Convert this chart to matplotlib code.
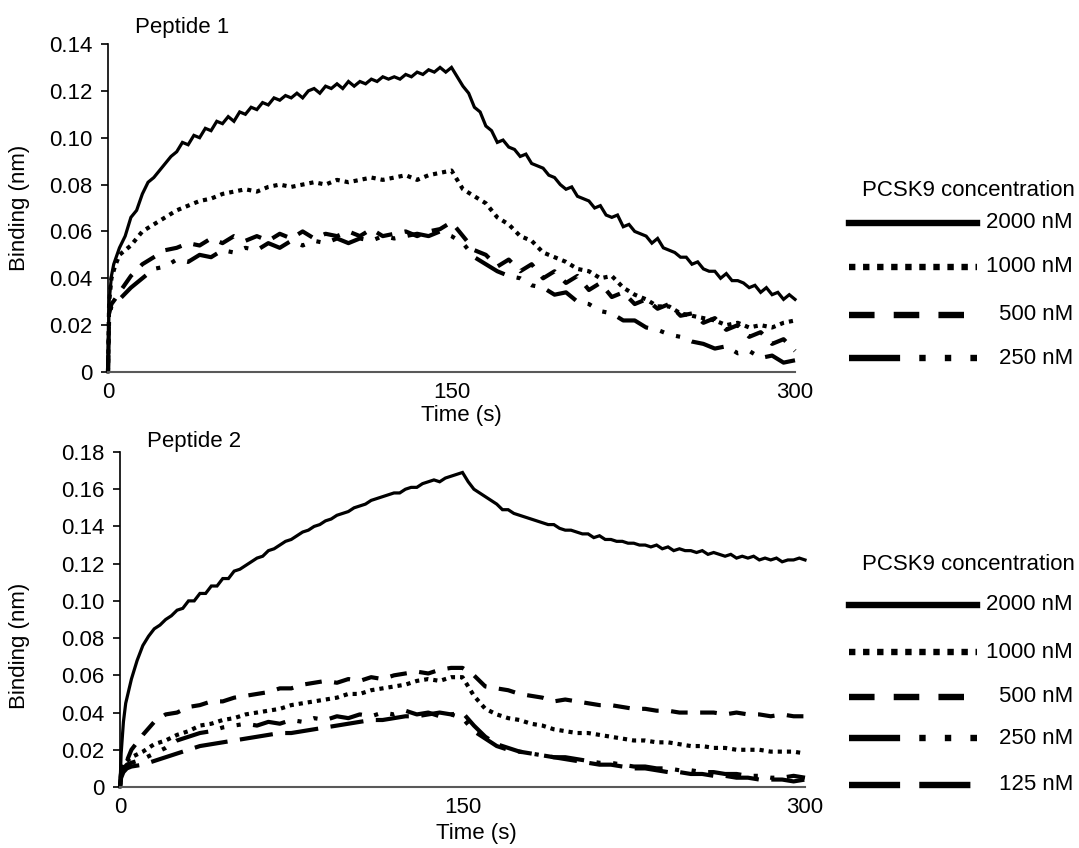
import matplotlib
matplotlib.use("Agg")
import matplotlib.pyplot as plt
from matplotlib.lines import Line2D

plt.rcParams['font.family'] = ['Liberation Sans', 'DejaVu Sans']

# ---------------- data ----------------
# fine sampling for the 2000 nM traces
time_fine = [0, 0.5, 1.5] + [2.5 * k for k in range(1, 121)]
# coarser sampling for the other traces
time = [0, 0.5, 1.5, 3] + list(range(5, 305, 5))

p1_2000 = [0, 0.030, 0.041,
           0.046, 0.053, 0.058, 0.066, 0.069, 0.076, 0.081, 0.083, 0.086, 0.089,
           0.092, 0.094, 0.098, 0.097, 0.101, 0.100, 0.104, 0.103, 0.107, 0.106,
           0.109, 0.107, 0.111, 0.110, 0.113, 0.112, 0.115, 0.114, 0.117, 0.116,
           0.118, 0.117, 0.119, 0.117, 0.120, 0.121, 0.119, 0.122, 0.121, 0.123,
           0.121, 0.124, 0.122, 0.124, 0.123, 0.125, 0.124, 0.126, 0.125, 0.126,
           0.125, 0.127, 0.126, 0.128, 0.127, 0.129, 0.128, 0.130, 0.128, 0.130,
           0.126, 0.122, 0.119, 0.113, 0.111, 0.105, 0.103, 0.098, 0.099, 0.096,
           0.095, 0.092, 0.093, 0.089, 0.088, 0.087, 0.084, 0.083, 0.080, 0.078,
           0.079, 0.075, 0.074, 0.073, 0.070, 0.071, 0.067, 0.066, 0.067, 0.062,
           0.063, 0.060, 0.059, 0.058, 0.055, 0.057, 0.053, 0.052, 0.051, 0.049,
           0.049, 0.046, 0.047, 0.044, 0.043, 0.043, 0.040, 0.042, 0.039, 0.039,
           0.038, 0.036, 0.037, 0.034, 0.036, 0.033, 0.034, 0.031, 0.033, 0.031]
p1_1000 = [0, 0.030, 0.040, 0.045,
           0.050, 0.054, 0.060, 0.063, 0.066, 0.069, 0.071, 0.073, 0.074, 0.076,
           0.077, 0.078, 0.077, 0.079, 0.080, 0.079, 0.080, 0.081, 0.080, 0.082,
           0.081, 0.082, 0.083, 0.082, 0.083, 0.084, 0.082, 0.084, 0.085, 0.086,
           0.078, 0.075, 0.072, 0.066, 0.063, 0.058, 0.056, 0.051, 0.049, 0.047,
           0.044, 0.043, 0.040, 0.041, 0.036, 0.033, 0.031, 0.028, 0.028, 0.025,
           0.024, 0.023, 0.022, 0.020, 0.021, 0.019, 0.020, 0.019, 0.021, 0.022]
p1_500 = [0, 0.025, 0.029, 0.031,
          0.034, 0.041, 0.046, 0.049, 0.052, 0.053, 0.055, 0.054, 0.057, 0.055,
          0.058, 0.056, 0.058, 0.056, 0.059, 0.057, 0.060, 0.057, 0.059, 0.058,
          0.060, 0.058, 0.061, 0.058, 0.059, 0.060, 0.058, 0.060, 0.061, 0.064,
          0.058, 0.052, 0.050, 0.045, 0.048, 0.043, 0.046, 0.040, 0.043, 0.038,
          0.041, 0.035, 0.038, 0.032, 0.034, 0.029, 0.031, 0.027, 0.029, 0.024,
          0.025, 0.021, 0.023, 0.018, 0.020, 0.015, 0.017, 0.012, 0.014, 0.009]
p1_250 = [0, 0.024, 0.028, 0.029,
          0.031, 0.036, 0.040, 0.044, 0.045, 0.048, 0.047, 0.050, 0.049, 0.052,
          0.051, 0.053, 0.052, 0.055, 0.053, 0.056, 0.054, 0.056, 0.055, 0.057,
          0.055, 0.057, 0.056, 0.058, 0.057, 0.058, 0.059, 0.058, 0.060, 0.058,
          0.055, 0.049, 0.046, 0.043, 0.041, 0.040, 0.037, 0.036, 0.033, 0.034,
          0.030, 0.029, 0.026, 0.025, 0.022, 0.022, 0.019, 0.018, 0.016, 0.015,
          0.013, 0.012, 0.010, 0.011, 0.008, 0.009, 0.006, 0.007, 0.004, 0.005]

p2_2000 = [0, 0.018, 0.035,
           0.045, 0.058, 0.068, 0.076, 0.081, 0.085, 0.087, 0.090, 0.092, 0.095,
           0.096, 0.100, 0.100, 0.104, 0.104, 0.108, 0.108, 0.112, 0.112, 0.116,
           0.117, 0.119, 0.121, 0.123, 0.124, 0.127, 0.128, 0.130, 0.132, 0.133,
           0.135, 0.137, 0.138, 0.140, 0.141, 0.143, 0.144, 0.146, 0.147, 0.148,
           0.150, 0.151, 0.152, 0.154, 0.155, 0.156, 0.157, 0.158, 0.158, 0.160,
           0.161, 0.161, 0.163, 0.164, 0.165, 0.164, 0.166, 0.167, 0.168, 0.169,
           0.164, 0.160, 0.158, 0.156, 0.154, 0.152, 0.149, 0.149, 0.147, 0.146,
           0.145, 0.144, 0.143, 0.142, 0.141, 0.141, 0.139, 0.138, 0.138, 0.137,
           0.136, 0.136, 0.134, 0.135, 0.133, 0.133, 0.132, 0.132, 0.131, 0.131,
           0.130, 0.130, 0.129, 0.130, 0.128, 0.129, 0.127, 0.128, 0.127, 0.127,
           0.126, 0.127, 0.125, 0.126, 0.125, 0.124, 0.125, 0.123, 0.124, 0.123,
           0.124, 0.122, 0.123, 0.122, 0.123, 0.121, 0.122, 0.122, 0.123, 0.122]
p2_1000 = [0, 0.008, 0.012, 0.014,
           0.016, 0.019, 0.023, 0.025, 0.028, 0.030, 0.033, 0.034, 0.036, 0.037,
           0.039, 0.040, 0.041, 0.042, 0.044, 0.045, 0.046, 0.047, 0.048, 0.050,
           0.050, 0.052, 0.053, 0.054, 0.055, 0.057, 0.058, 0.057, 0.059, 0.059,
           0.049, 0.042, 0.039, 0.037, 0.036, 0.034, 0.033, 0.031, 0.030, 0.029,
           0.029, 0.028, 0.027, 0.026, 0.025, 0.025, 0.024, 0.024, 0.023, 0.022,
           0.022, 0.021, 0.021, 0.020, 0.020, 0.020, 0.019, 0.019, 0.019, 0.018]
p2_500 = [0, 0.008, 0.011, 0.014,
          0.020, 0.028, 0.035, 0.039, 0.040, 0.043, 0.044, 0.046, 0.046, 0.048,
          0.049, 0.050, 0.051, 0.053, 0.053, 0.055, 0.056, 0.057, 0.056, 0.058,
          0.057, 0.059, 0.058, 0.060, 0.061, 0.062, 0.061, 0.063, 0.064, 0.064,
          0.060, 0.054, 0.053, 0.052, 0.050, 0.049, 0.048, 0.046, 0.047, 0.046,
          0.045, 0.044, 0.044, 0.043, 0.042, 0.042, 0.041, 0.041, 0.040, 0.040,
          0.040, 0.040, 0.039, 0.040, 0.039, 0.039, 0.038, 0.039, 0.038, 0.038]
p2_250 = [0, 0.006, 0.010, 0.012,
          0.013, 0.015, 0.018, 0.021, 0.025, 0.027, 0.029, 0.030, 0.032, 0.033,
          0.034, 0.033, 0.035, 0.034, 0.036, 0.035, 0.037, 0.036, 0.038, 0.037,
          0.039, 0.038, 0.040, 0.039, 0.041, 0.039, 0.040, 0.038, 0.039, 0.037,
          0.030, 0.026, 0.022, 0.020, 0.019, 0.018, 0.017, 0.016, 0.016, 0.015,
          0.014, 0.013, 0.013, 0.012, 0.011, 0.011, 0.010, 0.010, 0.009, 0.009,
          0.008, 0.008, 0.007, 0.007, 0.006, 0.006, 0.005, 0.005, 0.006, 0.005]
p2_125 = [0, 0.005, 0.008, 0.010,
          0.011, 0.012, 0.014, 0.016, 0.018, 0.020, 0.022, 0.023, 0.024, 0.025,
          0.026, 0.027, 0.028, 0.029, 0.029, 0.030, 0.031, 0.032, 0.033, 0.034,
          0.035, 0.036, 0.036, 0.037, 0.038, 0.038, 0.039, 0.040, 0.039, 0.040,
          0.033, 0.027, 0.023, 0.021, 0.019, 0.018, 0.017, 0.016, 0.015, 0.014,
          0.013, 0.012, 0.012, 0.011, 0.010, 0.010, 0.009, 0.008, 0.008, 0.007,
          0.007, 0.006, 0.006, 0.005, 0.005, 0.004, 0.004, 0.004, 0.003, 0.004]

conc_labels = ['2000 nM', '1000 nM', '500 nM', '250 nM', '125 nM']
p1_series = [p1_2000, p1_1000, p1_500, p1_250]
p2_series = [p2_2000, p2_1000, p2_500, p2_250, p2_125]
x_ticks = [0, 150, 300]
y1_ticks = [0, 0.02, 0.04, 0.06, 0.08, 0.10, 0.12, 0.14]
y1_labels = ['0', '0.02', '0.04', '0.06', '0.08', '0.10', '0.12', '0.14']
y2_ticks = [0, 0.02, 0.04, 0.06, 0.08, 0.10, 0.12, 0.14, 0.16, 0.18]
y2_labels = ['0', '0.02', '0.04', '0.06', '0.08', '0.10', '0.12', '0.14', '0.16', '0.18']

# ---------------- styles ----------------
styles = ['-', (0, (1, 1.2)), (0, (4, 3)), (0, (8, 3, 1, 3, 1, 3)), (0, (8, 3))]
FS = 16

W, H = 1079, 848
fig = plt.figure(figsize=(W / 100, H / 100), dpi=100)


def fx(px):
    return px / W


def fy(py):
    return 1 - py / H


ax1 = fig.add_axes([fx(108), fy(372), (795 - 108) / W, (372 - 44) / H])
ax2 = fig.add_axes([fx(120), fy(787), (805 - 120) / W, (787 - 452) / H])


def style_axes(ax, yt, yl, ymax):
    ax.set_xlim(0, 300)
    ax.set_ylim(0, ymax)
    ax.set_xticks(x_ticks)
    ax.set_xticklabels([str(v) for v in x_ticks])
    ax.set_yticks(yt)
    ax.set_yticklabels(yl)
    for s in ['top', 'right']:
        ax.spines[s].set_visible(False)
    ax.spines['left'].set_color('black')
    ax.spines['left'].set_linewidth(1.2)
    ax.spines['bottom'].set_color('#595959')
    ax.spines['bottom'].set_linewidth(1.5)
    ax.tick_params(axis='x', length=0, pad=7, labelsize=FS)
    ax.tick_params(axis='y', direction='out', length=5, width=1.2, pad=6, labelsize=FS)
    ax.set_xlabel('Time (s)', fontsize=FS)
    ax.set_ylabel('Binding (nm)', fontsize=FS)


def draw_traces(ax, series):
    for i, (vals, ls) in enumerate(zip(series, styles)):
        t = time_fine if i == 0 else time
        lw = 2.3 if i == 0 else 3.0
        ax.plot(t, vals, color='black', lw=lw, linestyle=ls, dash_capstyle='butt',
                solid_joinstyle='miter', clip_on=False)


draw_traces(ax1, p1_series)
draw_traces(ax2, p2_series)

style_axes(ax1, y1_ticks, y1_labels, 0.14)
style_axes(ax2, y2_ticks, y2_labels, 0.18)
ax1.xaxis.set_label_coords(0.515, -0.1)
ax2.xaxis.set_label_coords(0.52, -0.108)
ax1.yaxis.set_label_coords(-0.1135, 0.5)
ax2.yaxis.set_label_coords(-0.131, 0.42)

fig.text(fx(135), fy(33), 'Peptide 1', fontsize=FS, va='baseline', ha='left')
fig.text(fx(147), fy(447), 'Peptide 2', fontsize=FS, va='baseline', ha='left')


def draw_legend(title_y, ys, n):
    fig.text(fx(1075), fy(title_y), 'PCSK9 concentration', fontsize=FS,
             ha='right', va='center')
    for i in range(n):
        y = ys[i]
        fig.add_artist(Line2D([fx(849), fx(977)], [fy(y), fy(y)],
                              transform=fig.transFigure, color='black', lw=4.6,
                              linestyle=styles[i], dash_capstyle='butt'))
        fig.text(fx(1073), fy(y), conc_labels[i], fontsize=FS, ha='right', va='center')


draw_legend(190, [223, 267, 315, 358], 4)
draw_legend(565, [605, 652, 697, 738, 785], 5)

fig.savefig('out.png', dpi=100)
